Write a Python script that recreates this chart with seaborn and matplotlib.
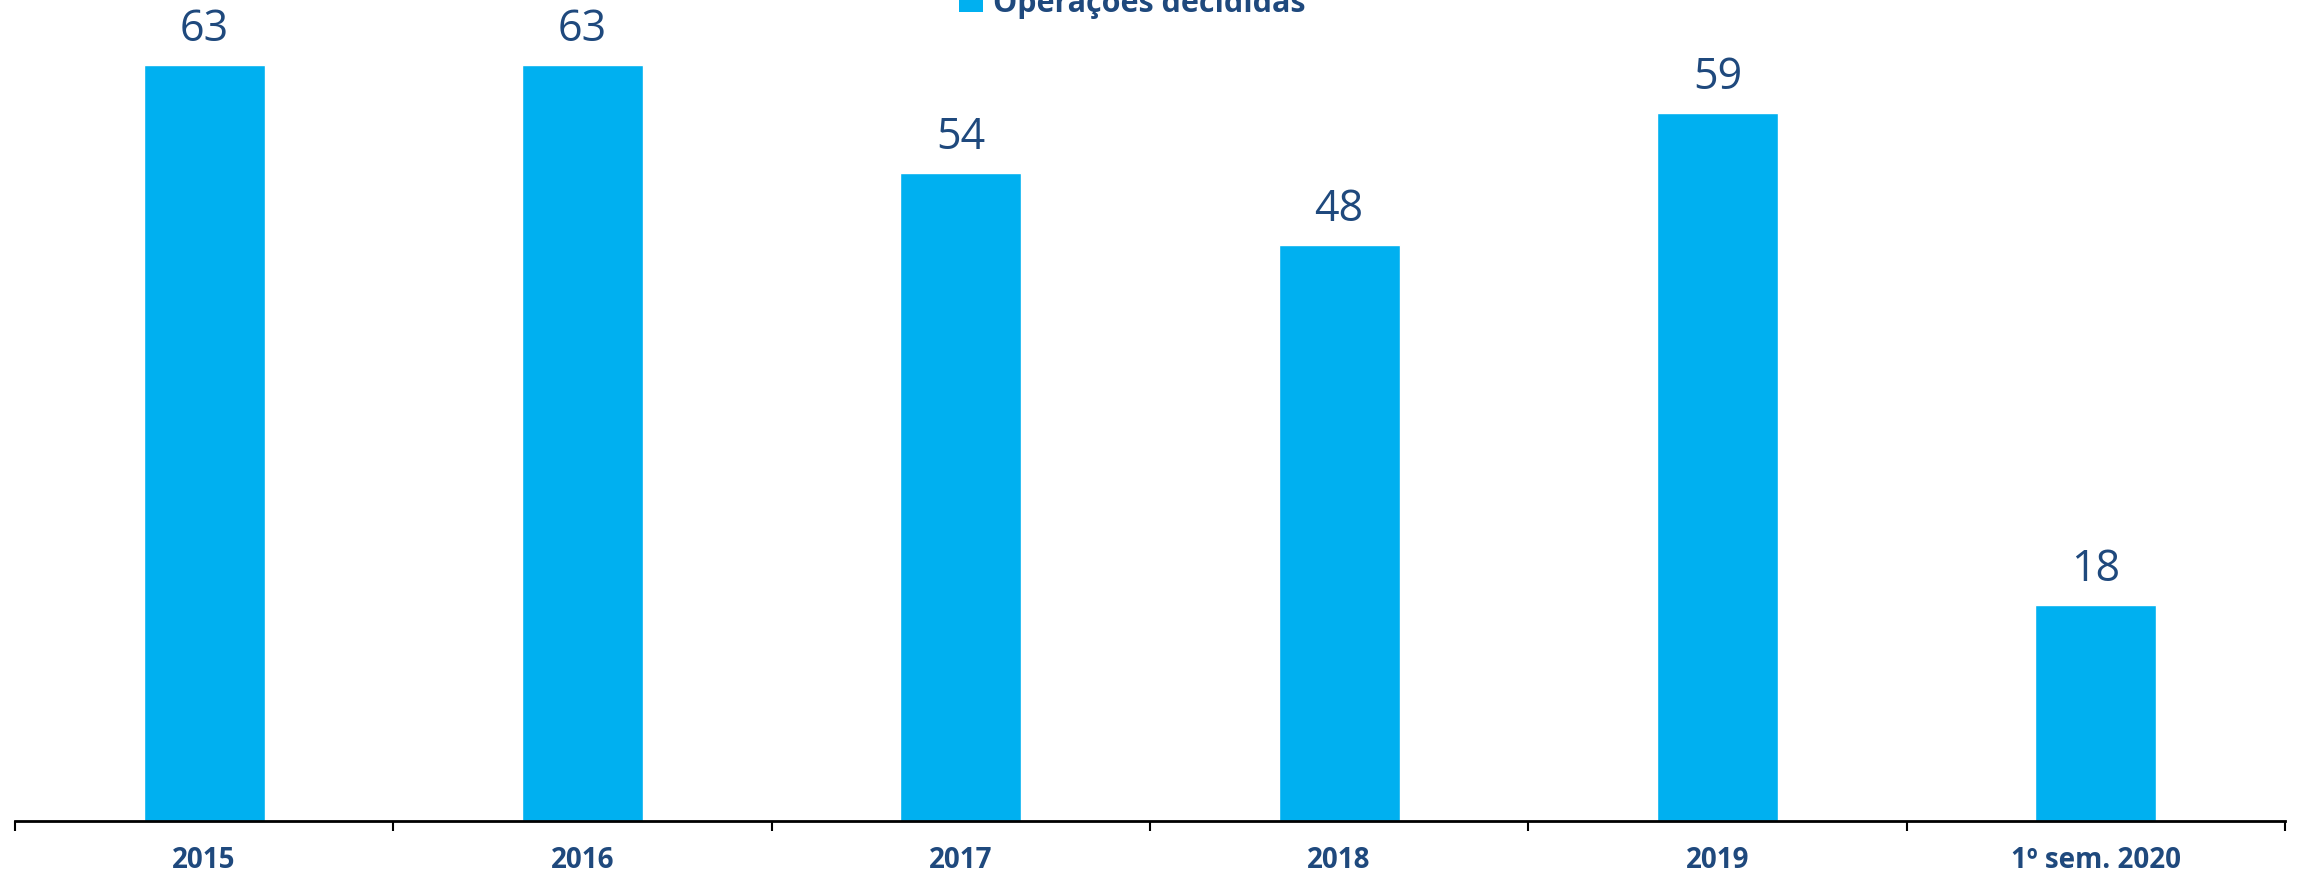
import matplotlib
matplotlib.use("Agg")
import matplotlib.pyplot as plt
import seaborn as sns
import pandas as pd
import numpy as np

categories = ["2015", "2016", "2017", "2018", "2019", "1º sem. 2020"]
values = [63, 63, 54, 48, 59, 18]
series_name = "Operações decididas"

bar_color = "#00B0F0"
text_color = "#1F497D"

sns.set_theme(style="white")
plt.rcParams['font.family'] = ['Open Sans', 'DejaVu Sans']

df = pd.DataFrame({"cat": categories, "val": values, "series": series_name})

fig = plt.figure(figsize=(22.98, 8.79), dpi=100)
ax = fig.add_axes([15/2298, 1 - 822/879, (2285-15)/2298, 822/879])

sns.barplot(data=df, x="cat", y="val", hue="series", palette=[bar_color],
            width=0.32, ax=ax, legend=False, saturation=1)

ax.set_xlim(-0.5, len(categories) - 0.5)
ax.set_ylim(0, 68.5)
for s in ["left", "right", "top"]:
    ax.spines[s].set_visible(False)
ax.spines["bottom"].set_color("black")
ax.spines["bottom"].set_linewidth(2)
ax.set_yticks([])
ax.set_xlabel("")
ax.set_ylabel("")

ax.set_xticks(range(len(categories)))
ax.set_xticklabels(categories, fontsize=20, fontweight="bold", color=text_color)
ax.tick_params(axis="x", which="major", bottom=False, length=0, pad=17)
ax.set_xticks(np.arange(-0.5, len(categories), 1.0), minor=True)
ax.tick_params(axis="x", which="minor", bottom=True, direction="out", length=7,
               width=1.5, color="black")

for i, v in enumerate(values):
    ax.annotate(str(v), (i, v), xytext=(0, 10), textcoords="offset points",
                ha="center", va="bottom", fontsize=31, color=text_color)

from matplotlib.patches import Patch
fig.legend(handles=[Patch(facecolor=bar_color, edgecolor="none")], labels=[series_name],
           loc="center", bbox_to_anchor=(1132/2298, 1 - 4/879), frameon=False,
           prop={"size": 22, "weight": "bold"}, labelcolor=text_color,
           handlelength=0.8, handleheight=0.8, handletextpad=0.3)

fig.savefig("out.png", dpi=100)
